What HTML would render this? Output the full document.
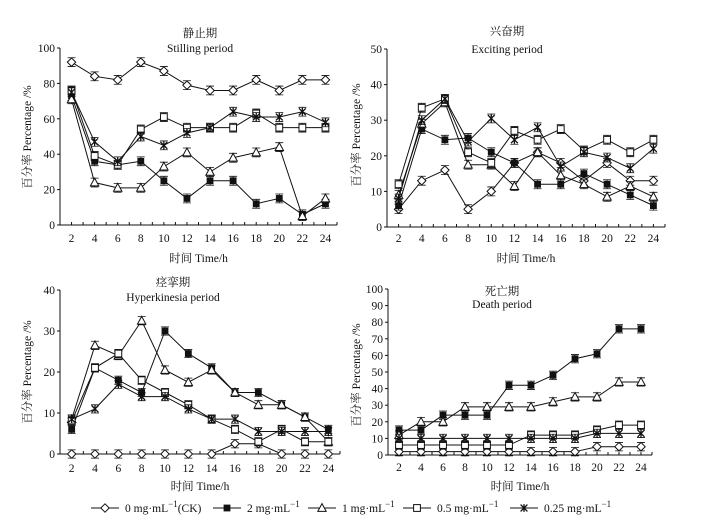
<!DOCTYPE html>
<html><head><meta charset="utf-8">
<style>
html,body{margin:0;padding:0;background:#fff;}
svg text{font-family:"Liberation Serif","Noto Serif CJK SC",serif;fill:#111;}
</style></head>
<body>
<svg id="chart" width="701" height="526" viewBox="0 0 701 526" xmlns="http://www.w3.org/2000/svg"></svg>
<script>
const hours = [2,4,6,8,10,12,14,16,18,20,22,24];
const seriesNames = ["ck","2mg","1mg","0.5mg","0.25mg"];
const markerTypes = ["diamond","square","triangle","opensquare","asterisk"];
const stillCK   = [92,84,82,92,87,79,76,76,82,76,82,82];
const still2    = [73,36,34,36,25,15,25,25,12,15,6,12];
const still1    = [71,24,21,21,33,41,30,38,41,44,5,15];
const still05   = [76,39,34,54,61,55,55,55,63,55,55,55];
const still025  = [75,47,36,50,45,52,55,64,61,61,64,58];
const excCK  = [5,13,16,5,10,18,21,18,13,18,13,13];
const exc2   = [6,27.5,24.5,25,21,18,12,12,15,12,9,6];
const exc1   = [9,29,35,17.5,17.5,11.5,21,14.5,12,8.5,11.5,8.5];
const exc05  = [12,33.5,36,21,18,27,24.5,27.5,21.5,24.5,21,24.5];
const exc025 = [8,30,36,24,30.5,24.5,28,17,21,19.5,16.5,22];
const hypCK  = [0,0,0,0,0,0,0,2.5,2.5,0,0,0];
const hyp2   = [6,21,18,15,30,24.5,21,15,15,12,9,6];
const hyp1   = [8.5,26.5,24,32.5,20.5,17.5,20.5,15,12,12,9,3];
const hyp05  = [8,21,24.5,18,15,12,8.5,6,3,6,3,3];
const hyp025 = [8.5,11,17,14,14,11,8.5,8.5,5.5,5.5,5.5,5.5];
const deathCK  = [2,2,2,2,2,2,2,2,2,5,5,5];
const death2   = [15,15,24,24,24,42,42,48,58,61,76,76];
const death1   = [12,20,20,29,29,29,29,32,35,35,44,44];
const death05  = [6,6,6,6,6,6,12,12,12,15,18,18];
const death025 = [10,10,10,10,10,10,10,10,10,13,13,13];
const stillTicks = [0,20,40,60,80,100];
const excTicks = [0,10,20,30,40,50];
const hypTicks = [0,10,20,30,40];
const deathTicks = [0,10,20,30,40,50,60,70,80,90,100];

const NS="http://www.w3.org/2000/svg";
const svg=document.getElementById('chart');
function el(tag,attrs,parent){const e=document.createElementNS(NS,tag);for(const k in attrs)e.setAttribute(k,attrs[k]);(parent||svg).appendChild(e);return e;}

const panels=[
 {id:"stilling",cn:"静止期",en:"Stilling period",L:60,R:337,T:48,B:225,max:100,ticks:stillTicks,data:[stillCK,still2,still1,still05,still025],cx:200,cnY:37,enY:52,tickY:242,timeY:262,ylX:31,ylY:137},
 {id:"exciting",cn:"兴奋期",en:"Exciting period",L:387,R:665,T:49,B:227,max:50,ticks:excTicks,data:[excCK,exc2,exc1,exc05,exc025],cx:507,cnY:35,enY:53,tickY:242,timeY:262,ylX:360,ylY:135},
 {id:"hyperkinesia",cn:"痉挛期",en:"Hyperkinesia period",L:60,R:340,T:290,B:454,max:40,ticks:hypTicks,data:[hypCK,hyp2,hyp1,hyp05,hyp025],cx:173,cnY:286,enY:301,tickY:472,timeY:490,ylX:31,ylY:372},
 {id:"death",cn:"死亡期",en:"Death period",L:388,R:652,T:289,B:455,max:100,ticks:deathTicks,data:[deathCK,death2,death1,death05,death025],cx:502,cnY:295,enY:308,tickY:471,timeY:490,ylX:360,ylY:375}
];

function drawMarker(g,type,x,y){
  const s=3.4;
  if(type==="diamond") el('polygon',{points:`${x},${y-s-0.8} ${x+s+0.8},${y} ${x},${y+s+0.8} ${x-s-0.8},${y}`,fill:'#fff',stroke:'#111','stroke-width':1},g);
  else if(type==="square") el('rect',{x:x-s,y:y-s,width:2*s,height:2*s,fill:'#111'},g);
  else if(type==="opensquare") el('rect',{x:x-s,y:y-s,width:2*s,height:2*s,fill:'#fff',stroke:'#111','stroke-width':1},g);
  else if(type==="triangle") el('polygon',{points:`${x},${y-s-1} ${x+s+0.8},${y+s} ${x-s-0.8},${y+s}`,fill:'#fff',stroke:'#111','stroke-width':1},g);
  else {
    el('path',{d:`M${x-s},${y-s}L${x+s},${y+s}M${x-s},${y+s}L${x+s},${y-s}M${x},${y-s-0.5}L${x},${y+s+0.5}`,stroke:'#111','stroke-width':1.3,fill:'none'},g);
  }
}

panels.forEach(p=>{
  const g=el('g',{});
  
  
  const xs=h=>p.L+(h-1)/24*(p.R-p.L);
  const ys=v=>p.B-v/p.max*(p.B-p.T);
  const ax=el('path',{d:`M${p.L},${p.T}L${p.L},${p.B}L${p.R},${p.B}`,stroke:'#111','stroke-width':1,fill:'none'},g);
  
  
  p.ticks.forEach(t=>{
    el('line',{x1:p.L-3,x2:p.L,y1:ys(t),y2:ys(t),stroke:'#111'},g);
    const tx=el('text',{x:p.L-5,y:ys(t)+4,'text-anchor':'end','font-size':11.5},g);
    tx.textContent=t;
    
    
  });
  for(let h=1;h<=25;h++) el('line',{x1:xs(h),x2:xs(h),y1:p.B,y2:p.B-3,stroke:'#111'},g);
  hours.forEach(h=>{
    const tx=el('text',{x:xs(h),y:p.tickY,'text-anchor':'middle','font-size':11.5},g);
    tx.textContent=h;
    
    
  });
  const t1=el('text',{x:p.cx,y:p.cnY,'text-anchor':'middle','font-size':11.5},g);
  t1.textContent=p.cn;
  
  
  const t2=el('text',{x:p.cx,y:p.enY,'text-anchor':'middle','font-size':11.5},g);
  t2.textContent=p.en;
  
  
  const xt=el('text',{x:(p.L+p.R)/2,y:p.timeY,'text-anchor':'middle','font-size':11.5},g);
  xt.textContent="时间 Time/h";
  
  
  const yt=el('text',{x:p.ylX,y:p.ylY,'text-anchor':'middle','font-size':11.5,transform:`rotate(-90 ${p.ylX} ${p.ylY})`},g);
  yt.textContent="百分率 Percentage /%";
  
  
  p.data.forEach((vals,si)=>{
    const sg=el('g',{},g);
    
    
    const pts=vals.map((v,i)=>xs(hours[i])+','+ys(v)).join(' ');
    el('polyline',{points:pts,fill:'none',stroke:'#111','stroke-width':1},sg);
    vals.forEach((v,i)=>{
      const x=xs(hours[i]),y=ys(v),e=0.025*(p.B-p.T);
      el('path',{d:`M${x},${y-e}L${x},${y+e}M${x-4},${y-e}L${x+4},${y-e}M${x-4},${y+e}L${x+4},${y+e}`,stroke:'#111','stroke-width':0.8,fill:'none'},sg);
      drawMarker(sg,markerTypes[si],x,y);
    });
  });
});

const legendLabels=["0 mg·mL","2 mg·mL","1 mg·mL","0.5 mg·mL","0.25 mg·mL"];
const legendX=[105,227,322,417,524];
const lg=el('g',{});


legendLabels.forEach((lab,i)=>{
  const g=el('g',{},lg);
  
  
  const x=legendX[i],y=508;
  el('line',{x1:x-14,x2:x+14,y1:y,y2:y,stroke:'#111'},g);
  drawMarker(g,markerTypes[i],x,y);
  const t=el('text',{x:x+20,y:y+4,'font-size':11.5},g);
  t.textContent=lab;
  const sup=el('tspan',{dy:-5,'font-size':9},t);
  sup.textContent="−1";
  if(i===0){const ck=el('tspan',{dy:5},t);ck.textContent="(CK)";}
});
</script>
</body></html>
